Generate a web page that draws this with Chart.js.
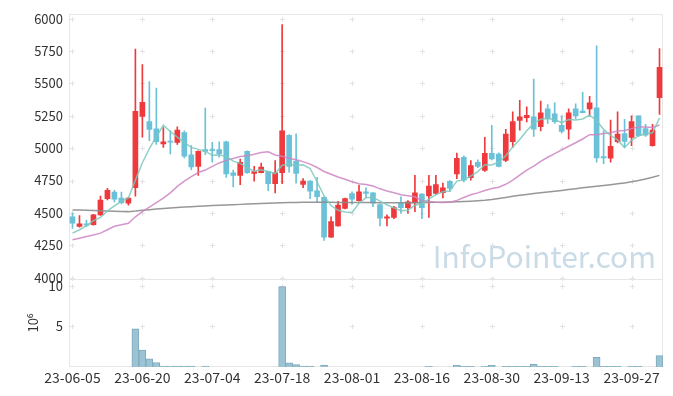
<!DOCTYPE html>
<html>
<head>
<meta charset="utf-8">
<script src="https://cdn.jsdelivr.net/npm/chart.js@4/dist/chart.umd.min.js"></script>
<style>
  html, body { margin: 0; padding: 0; background: #fff; }
</style>
</head>
<body>
<canvas id="myChart" width="673" height="396"></canvas>
<script>
const dates = [
  '23-06-05','23-06-07','23-06-08','23-06-09','23-06-12','23-06-13','23-06-14','23-06-15','23-06-16','23-06-19',
  '23-06-20','23-06-21','23-06-22','23-06-23','23-06-26','23-06-27','23-06-28','23-06-29','23-06-30','23-07-03',
  '23-07-04','23-07-05','23-07-06','23-07-07','23-07-10','23-07-11','23-07-12','23-07-13','23-07-14','23-07-17',
  '23-07-18','23-07-19','23-07-20','23-07-21','23-07-24','23-07-25','23-07-26','23-07-27','23-07-28','23-07-31',
  '23-08-01','23-08-02','23-08-03','23-08-04','23-08-07','23-08-08','23-08-09','23-08-10','23-08-11','23-08-14',
  '23-08-16','23-08-17','23-08-18','23-08-21','23-08-22','23-08-23','23-08-24','23-08-25','23-08-28','23-08-29',
  '23-08-30','23-08-31','23-09-01','23-09-04','23-09-05','23-09-06','23-09-07','23-09-08','23-09-11','23-09-12',
  '23-09-13','23-09-14','23-09-15','23-09-18','23-09-19','23-09-20','23-09-21','23-09-22','23-09-25','23-09-26',
  '23-09-27','23-10-04','23-10-05','23-10-06','23-10-10'
];

const openP = [
  4470,4395,4415,4410,4485,4610,4660,4615,4575,4695,
  5245,5205,5150,5032,5055,5045,5120,4948,4860,4990,
  4990,4990,5050,4810,4790,4975,4805,4810,4820,4726,
  4810,5100,4900,4720,4745,4670,4620,4313,4400,4535,
  4650,4595,4662,4655,4565,4460,4465,4578,4540,4578,
  4645,4632,4650,4657,4744,4802,4930,4772,4890,4828,
  4960,4955,4905,5050,5215,5236,5243,5167,5304,5266,
  5177,5146,5304,5287,5304,5312,4935,4922,5050,5113,
  5083,5249,5152,5020,5390
];
const highP = [
  4500,4480,4445,4490,4630,4690,4675,4660,4620,5765,
  5645,5515,5465,5160,5135,5165,5135,5020,4980,5310,
  5045,5050,5055,4830,4915,4980,4860,4885,4822,4905,
  5955,5105,5110,4765,4750,4775,4625,4470,4590,4615,
  4663,4715,4693,4658,4568,4485,4550,4625,4595,4790,
  4650,4790,4790,4730,4750,4963,4940,4905,4910,5083,
  5177,4965,5146,5280,5370,5320,5534,5363,5337,5350,
  5250,5304,5342,5432,5400,5790,5135,5218,5280,5223,
  5250,5250,5185,5185,5770
];
const lowP = [
  4380,4390,4395,4405,4480,4600,4585,4570,4560,4630,
  5085,5058,5030,5005,4955,5030,4925,4835,4790,4950,
  4892,4930,4775,4700,4718,4805,4745,4808,4672,4655,
  4725,4815,4730,4695,4610,4585,4288,4310,4398,4530,
  4566,4590,4617,4548,4400,4400,4455,4497,4497,4510,
  4455,4465,4640,4615,4665,4765,4740,4752,4850,4820,
  4910,4855,4895,5006,5140,5203,5090,5134,5192,5192,
  5116,5070,5228,5272,5250,4892,4880,4892,5040,5006,
  5020,5090,5090,5015,5260
];
const closeP = [
  4420,4415,4405,4485,4600,4675,4607,4580,4615,5285,
  5355,5145,5050,5050,5047,5140,4938,4855,4975,4975,
  4980,4955,4802,4790,4890,4810,4820,4855,4726,4810,
  5135,4860,4805,4745,4668,4625,4312,4433,4560,4610,
  4607,4662,4650,4575,4460,4470,4542,4540,4586,4655,
  4540,4708,4718,4693,4690,4922,4752,4866,4860,4960,
  4917,4860,5108,5205,5243,5253,5146,5274,5230,5205,
  5129,5274,5249,5274,5350,4925,4925,5014,5108,5052,
  5205,5096,5100,5140,5625
];

// volume, millions of shares
const volume = [
  0,0,0,0,0,0,0,0,0,4.7,
  2.1,1.0,0.55,0.12,0.12,0.1,0.1,0.1,0,0.12,
  0,0,0,0,0,0,0,0,0,0,
  9.9,0.5,0.3,0.1,0.1,0,0.25,0,0,0,
  0,0,0,0,0,0,0,0,0,0,
  0,0.08,0,0,0,0.2,0.08,0.08,0,0.08,
  0.2,0,0.08,0.08,0.08,0.08,0.35,0.08,0.08,0.08,
  0,0,0.08,0.08,0,1.2,0.08,0.08,0.08,0,
  0.08,0.08,0,0,1.4
];

const ma5 = [
  4344,4370,4400,4440,4465,4516,4554,4589,4615,4752,
  4888,4996,5090,5177,5129,5086,5045,5006,4991,4977,
  4945,4948,4937,4900,4883,4849,4822,4833,4820,4804,
  4869,4877,4867,4871,4843,4741,4631,4557,4520,4508,
  4504,4574,4618,4621,4591,4563,4539,4517,4520,4559,
  4573,4606,4641,4663,4670,4746,4755,4785,4818,4872,
  4871,4893,4941,5010,5067,5134,5191,5224,5229,5222,
  5197,5222,5217,5226,5255,5214,5145,5098,5064,5005,
  5061,5095,5112,5119,5233
];
const ma20 = [
  4293,4305,4318,4330,4344,4370,4397,4408,4420,4470,
  4510,4545,4580,4615,4655,4705,4745,4780,4812,4831,
  4859,4886,4906,4921,4935,4942,4953,4967,4972,4948,
  4937,4923,4911,4896,4877,4851,4820,4799,4778,4760,
  4741,4726,4719,4708,4686,4669,4656,4640,4633,4625,
  4595,4588,4583,4581,4582,4597,4619,4640,4655,4673,
  4688,4698,4721,4753,4792,4831,4861,4898,4930,4958,
  4987,5015,5042,5071,5104,5104,5113,5120,5132,5137,
  5151,5163,5163,5160,5179
];
const ma60 = [
  4523,4522,4520,4518,4516,4514,4512,4511,4510,4514,
  4520,4525,4530,4534,4538,4542,4545,4548,4551,4554,
  4557,4560,4562,4564,4566,4568,4570,4572,4574,4576,
  4578,4580,4581,4582,4583,4583,4582,4582,4581,4581,
  4580,4580,4580,4580,4579,4578,4578,4578,4578,4579,
  4580,4581,4582,4583,4585,4587,4589,4591,4594,4598,
  4604,4612,4620,4628,4636,4643,4650,4656,4662,4668,
  4674,4680,4687,4694,4700,4706,4712,4718,4725,4732,
  4740,4750,4762,4775,4790
];

const priceTicks = [4000,4250,4500,4750,5000,5250,5500,5750,6000];
const volTicks = [5,10];

const upColor = '#ee3a3d';
const downColor = '#6bc2d8';
const candleColors = closeP.map((c, i) => c >= openP[i] ? upColor : downColor);
const fontFamily = '"Noto Sans CJK KR", "Noto Sans", sans-serif';
const tickFont = { family: fontFamily, size: 13 };

// light frame, "+" grid marks and the watermark
const chartDecor = {
  id: 'chartDecor',
  beforeDatasetsDraw(chart) {
    const { ctx, scales: { x, y, yv } } = chart;
    ctx.save();
    ctx.font = '30px ' + fontFamily;
    ctx.fillStyle = '#c9dbe7';
    ctx.textAlign = 'right';
    ctx.textBaseline = 'alphabetic';
    ctx.fillText('InfoPointer.com', x.right - 7, y.bottom - 11);

    ctx.strokeStyle = '#e2e2e2';
    ctx.lineWidth = 1;
    const cross = (px, py) => {
      ctx.beginPath();
      ctx.moveTo(px - 2.5, py); ctx.lineTo(px + 2.5, py);
      ctx.moveTo(px, py - 2.5); ctx.lineTo(px, py + 2.5);
      ctx.stroke();
    };
    for (let i = 0; i < dates.length; i += 10) {
      const px = Math.round(x.getPixelForValue(i)) + 0.5;
      priceTicks.forEach(v => cross(px, Math.round(y.getPixelForValue(v)) + 0.5));
      volTicks.forEach(v => cross(px, Math.round(yv.getPixelForValue(v)) + 0.5));
    }

    ctx.strokeStyle = '#e6e6e6';
    ctx.beginPath();
    ctx.rect(Math.round(x.left) + 0.5, Math.round(y.top) + 0.5,
             Math.round(x.right - x.left) - 1, Math.round(yv.bottom - y.top) - 1);
    ctx.moveTo(x.left, Math.round(y.bottom) + 0.5);
    ctx.lineTo(x.right, Math.round(y.bottom) + 0.5);
    ctx.stroke();
    ctx.restore();
  }
};

const ctx = document.getElementById('myChart').getContext('2d');

new Chart(ctx, {
  type: 'bar',
  data: {
    labels: dates,
    datasets: [
      { type: 'line', label: 'MA5', data: ma5, yAxisID: 'y',
        borderColor: 'rgba(125,200,188,0.85)', borderWidth: 1.5, pointRadius: 0, tension: 0 },
      { type: 'line', label: 'MA20', data: ma20, yAxisID: 'y',
        borderColor: 'rgba(204,132,194,0.85)', borderWidth: 1.5, pointRadius: 0, tension: 0 },
      { type: 'line', label: 'MA60', data: ma60, yAxisID: 'y',
        borderColor: 'rgba(140,140,140,0.9)', borderWidth: 1.5, pointRadius: 0, tension: 0 },
      { label: 'body', data: openP.map((o, i) => [o, closeP[i]]), yAxisID: 'y',
        backgroundColor: candleColors, barThickness: 5, grouped: false },
      { label: 'wick', data: lowP.map((l, i) => [l, highP[i]]), yAxisID: 'y',
        backgroundColor: candleColors, barThickness: 1, grouped: false },
      { label: 'volume', data: volume, yAxisID: 'yv',
        backgroundColor: '#9cc3d3', borderColor: '#7fa9bc', borderWidth: 1,
        barPercentage: 1, categoryPercentage: 1, grouped: false }
    ]
  },
  options: {
    responsive: false,
    animation: false,
    layout: { padding: { top: 10, right: 10, left: 0, bottom: 0 } },
    plugins: { legend: { display: false }, tooltip: { enabled: false } },
    scales: {
      x: {
        offset: true,
        grid: { display: false, drawTicks: false },
        border: { display: false },
        ticks: {
          autoSkip: false, maxRotation: 0, color: '#333', font: { family: fontFamily, size: 14 }, padding: 2,
          callback(v, i) { return i % 10 === 0 ? this.getLabelForValue(v) : ''; }
        },
        afterFit(s) { s.height = 29; }
      },
      // volume panel is listed first so the price panel stacks on top of it
      yv: {
        position: 'left', stack: 'main', stackWeight: 89,
        min: 0, max: 10.85,
        grid: { display: false, drawTicks: false },
        border: { display: false },
        ticks: { autoSkip: false, color: '#333', font: tickFont, padding: 6, callback: v => String(v) },
        title: { display: true, text: '10⁶', color: '#333', font: tickFont, padding: { top: 25, bottom: 0 } },
        afterBuildTicks(s) { s.ticks = volTicks.map(v => ({ value: v })); },
        afterFit(s) { s.width = 69; }
      },
      y: {
        position: 'left', stack: 'main', stackWeight: 268,
        min: 3990, max: 6038,
        grid: { display: false, drawTicks: false },
        border: { display: false },
        ticks: { autoSkip: false, color: '#333', font: tickFont, padding: 6, callback: v => String(v) },
        afterBuildTicks(s) { s.ticks = priceTicks.map(v => ({ value: v })); },
        afterFit(s) { s.width = 69; }
      }
    }
  },
  plugins: [chartDecor]
});
</script>
</body>
</html>
